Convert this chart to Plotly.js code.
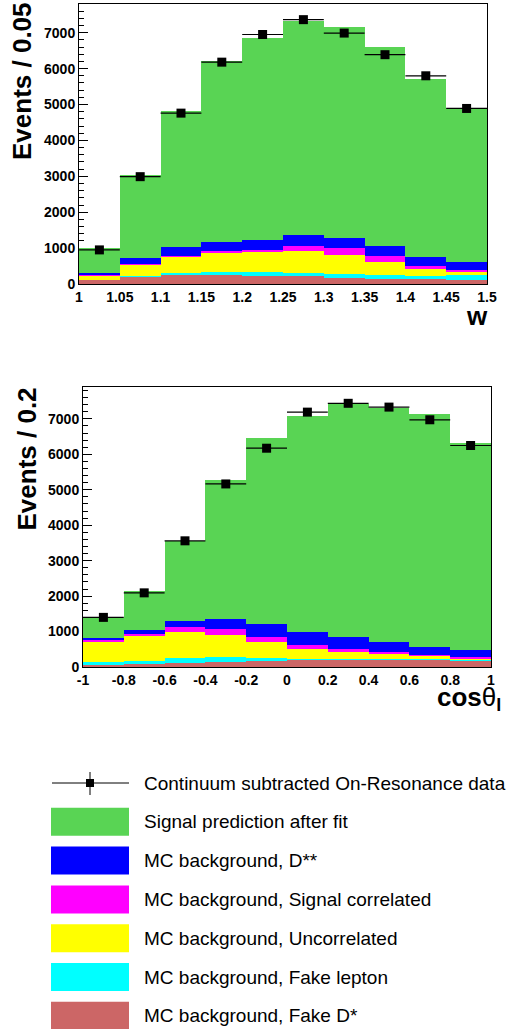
<!DOCTYPE html>
<html>
<head>
<meta charset="utf-8">
<script src="https://cdn.plot.ly/plotly-3.0.1.min.js"></script>
<style>html,body{margin:0;padding:0;background:#fff;}#chart{width:512px;height:1029px;}</style>
</head>
<body>
<div id="chart"></div>
<script>
// ---------- DATA: w distribution ----------
const wBins      = [1.025, 1.075, 1.125, 1.175, 1.225, 1.275, 1.325, 1.375, 1.425, 1.475];
const wBinHalf   = [0.025, 0.025, 0.025, 0.025, 0.025, 0.025, 0.025, 0.025, 0.025, 0.025];
const wFakeDstar = [100, 190, 238, 240, 230, 235, 171, 152, 133, 110];
const wFakeLep   = [25, 30, 57, 84, 94, 85, 96, 86, 77, 135];
const wUncorr    = [110, 304, 467, 533, 581, 610, 533, 381, 219, 100];
const wSigCorr   = [20, 26, 28, 67, 47, 140, 210, 161, 76, 55];
const wDss       = [45, 164, 229, 256, 286, 300, 285, 268, 247, 225];
const wSignal    = [690, 2336, 3807, 5020, 5612, 5947, 5865, 5542, 4966, 4265];
const wData      = [950, 2990, 4760, 6180, 6950, 7364, 6990, 6388, 5800, 4890];
const wTickVals  = [1, 1.05, 1.1, 1.15, 1.2, 1.25, 1.3, 1.35, 1.4, 1.45, 1.5];
const wTickText  = ["1", "1.05", "1.1", "1.15", "1.2", "1.25", "1.3", "1.35", "1.4", "1.45", "1.5"];

// ---------- DATA: cos(theta_l) distribution ----------
const cBins      = [-0.9, -0.7, -0.5, -0.3, -0.1, 0.1, 0.3, 0.5, 0.7, 0.9];
const cBinHalf   = [0.1, 0.1, 0.1, 0.1, 0.1, 0.1, 0.1, 0.1, 0.1, 0.1];
const cFakeDstar = [60, 75, 123, 155, 180, 207, 203, 203, 198, 170];
const cFakeLep   = [95, 105, 132, 137, 85, 29, 28, 19, 17, 18];
const cUncorr    = [555, 706, 735, 603, 435, 284, 202, 146, 82, 48];
const cSigCorr   = [45, 57, 128, 170, 140, 110, 85, 66, 52, 42];
const cDss       = [50, 97, 172, 288, 375, 360, 340, 283, 226, 192];
const cSignal    = [575, 1100, 2272, 3925, 5241, 6079, 6569, 6587, 6569, 5845];
const cData      = [1400, 2092, 3560, 5165, 6173, 7191, 7440, 7333, 6975, 6249];
const cTickVals  = [-1, -0.8, -0.6, -0.4, -0.2, 0, 0.2, 0.4, 0.6, 0.8, 1];
const cTickText  = ["-1", "-0.8", "-0.6", "-0.4", "-0.2", "0", "0.2", "0.4", "0.6", "0.8", "1"];

const yTickVals  = [0, 1000, 2000, 3000, 4000, 5000, 6000, 7000];
const yTickText  = ["0", "1000", "2000", "3000", "4000", "5000", "6000", "7000"];

const legendLabels = [
  "Continuum subtracted On-Resonance data",
  "Signal prediction after fit",
  "MC background, D**",
  "MC background, Signal correlated",
  "MC background, Uncorrelated",
  "MC background, Fake lepton",
  "MC background, Fake D*"
];

// ---------- styles ----------
const COL = {
  fakeD: "#cc6666", fakeL: "#00ffff", uncorr: "#ffff00",
  sigc: "#ff00ff", dss: "#0000ff", signal: "#59d454"
};
const W = 512, H = 1029;
const px = v => v / W;
const py = v => (H - v) / H;

function stackTraces(x, half, comps, xa, ya) {
  return comps.map(([y, c]) => ({
    type: "bar", x: x, y: y, width: half.map(h => 2 * h),
    marker: {color: c, line: {width: 0}},
    xaxis: xa, yaxis: ya, hoverinfo: "skip", showlegend: false
  }));
}
function dataTrace(x, y, half, xa, ya) {
  return {
    type: "scatter", mode: "markers", x: x, y: y,
    marker: {symbol: "square", size: 9, color: "black"},
    error_x: {type: "data", array: half, thickness: 1.2, width: 0, color: "black"},
    xaxis: xa, yaxis: ya, showlegend: false
  };
}

const traces = [
  ...stackTraces(wBins, wBinHalf, [[wFakeDstar, COL.fakeD], [wFakeLep, COL.fakeL], [wUncorr, COL.uncorr],
                                   [wSigCorr, COL.sigc], [wDss, COL.dss], [wSignal, COL.signal]], "x", "y"),
  dataTrace(wBins, wData, wBinHalf, "x", "y"),
  ...stackTraces(cBins, cBinHalf, [[cFakeDstar, COL.fakeD], [cFakeLep, COL.fakeL], [cUncorr, COL.uncorr],
                                   [cSigCorr, COL.sigc], [cDss, COL.dss], [cSignal, COL.signal]], "x2", "y2"),
  dataTrace(cBins, cData, cBinHalf, "x2", "y2")
];

const tickFont = {family: "Liberation Sans, Arial, sans-serif", size: 14, color: "black", weight: "bold"};
function axisBase(extra) {
  return Object.assign({
    showline: true, mirror: true, linecolor: "black", linewidth: 1,
    showgrid: false, zeroline: false, ticks: "inside", tickcolor: "black", tickwidth: 1,
    tickfont: tickFont, layer: "below traces", fixedrange: true
  }, extra);
}

const layout = {
  width: W, height: H,
  margin: {l: 0, r: 0, t: 0, b: 0},
  paper_bgcolor: "white", plot_bgcolor: "white",
  barmode: "stack", bargap: 0, showlegend: false,
  xaxis: axisBase({domain: [px(79), px(487)], range: [1, 1.5], anchor: "y",
    tickmode: "array", tickvals: wTickVals, ticktext: wTickText, ticklen: 8,
    minor: {ticks: "inside", ticklen: 4, dtick: 0.01, tickcolor: "black"}}),
  yaxis: axisBase({domain: [py(284), py(4)], range: [0, 7800], anchor: "x",
    tickmode: "array", tickvals: yTickVals, ticktext: yTickText, ticklen: 9,
    minor: {ticks: "inside", ticklen: 5, dtick: 200, tickcolor: "black"}}),
  xaxis2: axisBase({domain: [px(83), px(491)], range: [-1, 1], anchor: "y2",
    tickmode: "array", tickvals: cTickVals, ticktext: cTickText, ticklen: 8,
    minor: {ticks: "inside", ticklen: 4, dtick: 0.05, tickcolor: "black"}}),
  yaxis2: axisBase({domain: [py(667), py(387)], range: [0, 7900], anchor: "x2",
    tickmode: "array", tickvals: yTickVals, ticktext: yTickText, ticklen: 9,
    minor: {ticks: "inside", ticklen: 5, dtick: 200, tickcolor: "black"}}),
  shapes: [], annotations: []
};

const titleFont = {family: "Liberation Sans, Arial, sans-serif", size: 26, color: "black", weight: "bold"};
layout.annotations.push(
  {xref: "paper", yref: "paper", x: px(22), y: py(0), xanchor: "center", yanchor: "top",
   text: "Events / 0.05", textangle: -90, showarrow: false, font: titleFont},
  {xref: "paper", yref: "paper", x: px(26), y: py(386), xanchor: "center", yanchor: "top",
   text: "Events / 0.2", textangle: -90, showarrow: false, font: titleFont},
  {xref: "paper", yref: "paper", x: px(490), y: py(316), xanchor: "right", yanchor: "middle",
   text: "w", showarrow: false, font: titleFont},
  {xref: "paper", yref: "paper", x: px(503), y: py(698), xanchor: "right", yanchor: "middle",
   text: "cos<span style=\"font-weight:normal\">θ</span><sub>l</sub>", showarrow: false, font: titleFont}
);

// ---------- legend (drawn manually) ----------
const legFont = {family: "Liberation Sans, Arial, sans-serif", size: 19, color: "black"};
const legColors = [null, COL.signal, COL.dss, COL.sigc, COL.uncorr, COL.fakeL, COL.fakeD];
const rowY0 = 783, rowStep = 38.8;
legendLabels.forEach((lab, i) => {
  const yc = rowY0 + i * rowStep;
  if (i === 0) {
    layout.shapes.push(
      {type: "line", xref: "paper", yref: "paper", x0: px(52), x1: px(129), y0: py(yc), y1: py(yc),
       line: {color: "black", width: 1}},
      {type: "line", xref: "paper", yref: "paper", x0: px(90), x1: px(90), y0: py(yc - 11), y1: py(yc + 12),
       line: {color: "black", width: 1}},
      {type: "rect", xref: "paper", yref: "paper", x0: px(86), x1: px(94), y0: py(yc - 4), y1: py(yc + 4),
       fillcolor: "black", line: {width: 0}}
    );
  } else {
    layout.shapes.push({type: "rect", xref: "paper", yref: "paper", x0: px(51), x1: px(129),
      y0: py(yc - 14), y1: py(yc + 14), fillcolor: legColors[i], line: {width: 0}});
  }
  layout.annotations.push({xref: "paper", yref: "paper", x: px(142), y: py(yc), xanchor: "left", yanchor: "middle",
    text: lab, showarrow: false, font: legFont});
});

Plotly.newPlot("chart", traces, layout, {staticPlot: true, displayModeBar: false});
</script>
</body>
</html>
